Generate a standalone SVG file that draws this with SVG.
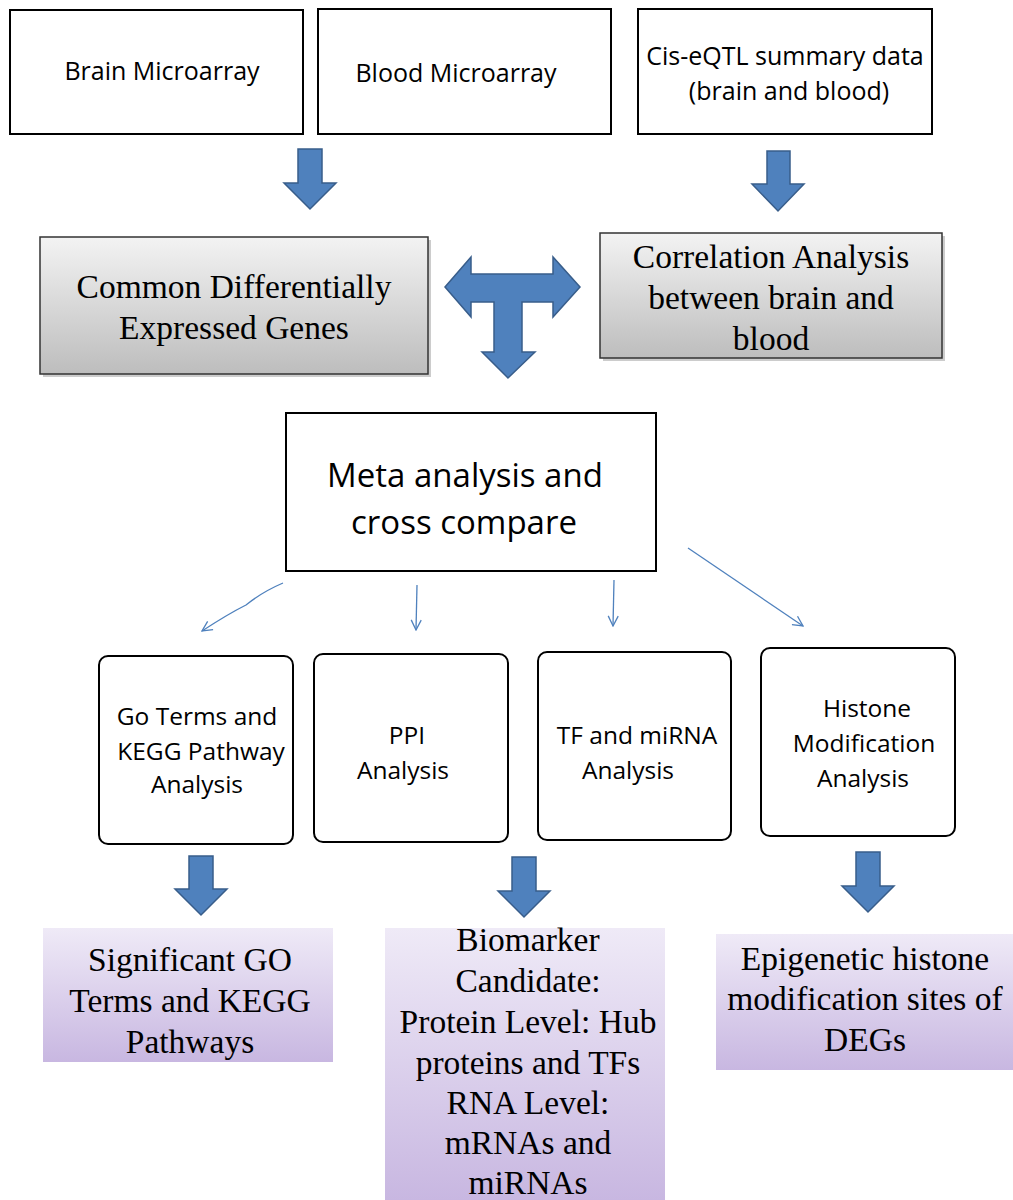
<svg xmlns="http://www.w3.org/2000/svg" width="1013" height="1200" viewBox="0 0 1013 1200">
<defs>
<linearGradient id="gray" x1="0" y1="0" x2="0" y2="1">
<stop offset="0" stop-color="#f3f3f3"/>
<stop offset="1" stop-color="#bdbdbd"/>
</linearGradient>
<linearGradient id="purple" x1="0" y1="0" x2="0" y2="1">
<stop offset="0" stop-color="#efeaf7"/>
<stop offset="1" stop-color="#c8b7e1"/>
</linearGradient>
<marker id="open" viewBox="0 0 12 12" refX="11" refY="6" markerWidth="12" markerHeight="12" markerUnits="userSpaceOnUse" orient="auto">
<path d="M1,1 L11,6 L1,11" fill="none" stroke="#4F81BD" stroke-width="1.3"/>
</marker>
<style>
.box{fill:#fff;stroke:#000;stroke-width:2}
.gbox{fill:url(#gray);stroke:#333;stroke-width:1.5}
.shadow{fill:#9a9a9a;opacity:0.5}
.pbox{fill:url(#purple);stroke:none}
.rbox{fill:#fff;stroke:#000;stroke-width:2}
.sans{font-family:"Open Sans","DejaVu Sans",sans-serif;fill:#000;text-anchor:middle}
.serif{font-family:"Liberation Serif","Times New Roman",serif;fill:#000;text-anchor:middle;font-size:33.5px}
.big{fill:#4F81BD;stroke:#385D8A;stroke-width:1.5;stroke-linejoin:miter}
.thin{fill:none;stroke:#4F81BD;stroke-width:1.3;marker-end:url(#open)}
</style>
</defs>

<g id="brain-microarray">
<rect class="box" x="10" y="10" width="293" height="124"/>
<text class="sans" x="162" y="80" font-size="25">Brain Microarray</text>
</g>
<g id="blood-microarray">
<rect class="box" x="318" y="9" width="293" height="125"/>
<text class="sans" x="456" y="82" font-size="25">Blood Microarray</text>
</g>
<g id="cis-eqtl">
<rect class="box" x="638" y="9" width="294" height="125"/>
<text class="sans" x="785" y="65" font-size="25">Cis-eQTL summary data</text>
<text class="sans" x="789" y="100" font-size="25">(brain and blood)</text>
</g>

<g id="common-degs">
<rect class="shadow" x="43" y="240" width="388" height="137"/>
<rect class="gbox" x="40" y="237" width="388" height="137"/>
<text class="serif" x="234" y="298">Common Differentially</text>
<text class="serif" x="234" y="339">Expressed Genes</text>
</g>
<g id="correlation">
<rect class="shadow" x="603" y="236" width="342" height="125"/>
<rect class="gbox" x="600" y="233" width="342" height="125"/>
<text class="serif" x="771" y="268">Correlation Analysis</text>
<text class="serif" x="771" y="309">between brain and</text>
<text class="serif" x="771" y="350">blood</text>
</g>

<g id="meta-analysis">
<rect class="box" x="286" y="413" width="370" height="158"/>
<text class="sans" x="465" y="487" font-size="33">Meta analysis and</text>
<text class="sans" x="464" y="534" font-size="33">cross compare</text>
</g>

<g id="go-kegg">
<rect class="rbox" x="99" y="656" width="194" height="188" rx="9"/>
<text class="sans" x="197" y="725" font-size="24.5">Go Terms and</text>
<text class="sans" x="201" y="760" font-size="24.5">KEGG Pathway</text>
<text class="sans" x="197" y="793" font-size="24.5">Analysis</text>
</g>
<g id="ppi">
<rect class="rbox" x="314" y="654" width="194" height="188" rx="9"/>
<text class="sans" x="407" y="744" font-size="24.5">PPI</text>
<text class="sans" x="403" y="779" font-size="24.5">Analysis</text>
</g>
<g id="tf-mirna">
<rect class="rbox" x="538" y="652" width="193" height="188" rx="9"/>
<text class="sans" x="637" y="744" font-size="24.5">TF and miRNA</text>
<text class="sans" x="628" y="779" font-size="24.5">Analysis</text>
</g>
<g id="histone">
<rect class="rbox" x="761" y="648" width="194" height="188" rx="9"/>
<text class="sans" x="867" y="717" font-size="24.5">Histone</text>
<text class="sans" x="864" y="752" font-size="24.5">Modification</text>
<text class="sans" x="863" y="787" font-size="24.5">Analysis</text>
</g>

<g id="significant-go">
<rect class="pbox" x="43" y="928" width="290" height="134"/>
<text class="serif" x="190" y="971">Significant GO</text>
<text class="serif" x="190" y="1012">Terms and KEGG</text>
<text class="serif" x="190" y="1053">Pathways</text>
</g>
<g id="biomarker">
<rect class="pbox" x="385" y="928" width="280" height="272"/>
<text class="serif" x="528" y="951">Biomarker</text>
<text class="serif" x="528" y="992">Candidate:</text>
<text class="serif" x="528" y="1033">Protein Level: Hub</text>
<text class="serif" x="528" y="1074">proteins and TFs</text>
<text class="serif" x="528" y="1114">RNA Level:</text>
<text class="serif" x="528" y="1154">mRNAs and</text>
<text class="serif" x="528" y="1194">miRNAs</text>
</g>
<g id="epigenetic">
<rect class="pbox" x="716" y="934" width="297" height="136"/>
<text class="serif" x="865" y="970">Epigenetic histone</text>
<text class="serif" x="865" y="1010">modification sites of</text>
<text class="serif" x="865" y="1051">DEGs</text>
</g>

<g id="connectors">
<path class="big" d="M298,149 H322 V183 H336 L310,209 L284,183 H298 Z"/>
<path class="big" d="M767,151 H790 V184 H804 L778,211 L752,184 H767 Z"/>
<path class="big" d="M445,287 L471,257 V274 H553 V257 L580,287 L553,317 V302 H522 V352 H535 L508,378 L482,352 H494 V302 H471 V317 Z"/>
<path class="thin" d="M283,583 Q262,592 246,605 Q228,614 202,631"/>
<path class="thin" d="M417,585 L416,630"/>
<path class="thin" d="M614,580 L613,626"/>
<path class="thin" d="M688,548 L803,626"/>
<path class="big" d="M189,856 H213 V889 H227 L201,915 L175,889 H189 Z"/>
<path class="big" d="M512,857 H536 V891 H550 L524,917 L498,891 H512 Z"/>
<path class="big" d="M856,852 H880 V886 H894 L868,912 L842,886 H856 Z"/>
</g>
</svg>
